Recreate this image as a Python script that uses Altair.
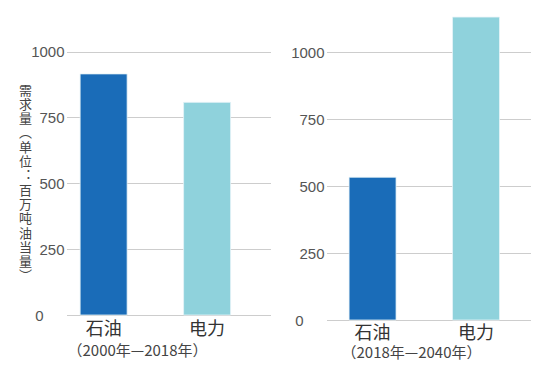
import altair as alt
import pandas as pd

categories = ["石油", "电力"]
left_values = [915, 807]
right_values = [533, 1131]
left_period = "（2000年—2018年）"
right_period = "（2018年—2040年）"
y_title_chars = ["需", "求", "量", "︵", "单", "位", "︓", "百", "万", "吨", "油", "当", "量", "︶"]
y_ticks = [0, 250, 500, 750, 1000]
colors = ["#1a6cb8", "#8fd2dc"]

FONT = "Liberation Sans, Noto Sans CJK SC"
CJK = "Noto Sans CJK SC"

left_df = pd.DataFrame({"cat": categories, "value": left_values})
right_df = pd.DataFrame({"cat": categories, "value": right_values})


def y_axis(show_title, zero_pad):
    kw = dict(
        values=y_ticks,
        format="d",
        grid=True,
        gridDash=[1, 1],
        gridColor="#9a9a9a",
        gridWidth=1,
        domain=False,
        ticks=False,
        labelFont=FONT,
        labelFontSize=15,
        labelColor="#555555",
        labelPadding={"condition": {"test": "datum.value == 0", "value": zero_pad}, "value": 3},
    )
    if show_title:
        kw.update(
            title=y_title_chars,
            titleAngle=0,
            titleFont=CJK,
            titleFontSize=13,
            titleFontWeight="normal",
            titleColor="#444444",
            titleLineHeight=14.3,
            titleAlign="center",
            titleBaseline="top",
            titleX=-42,
            titleY=72,
        )
    else:
        kw.update(title=None)
    return alt.Axis(**kw)


def panel(df, period, height, align, title_x, title_y, show_title, label_pad, zero_pad):
    return alt.Chart(df).mark_bar(stroke="#e6f4f8", strokeWidth=0.8).encode(
        x=alt.X(
            "cat:N",
            sort=categories,
            scale=alt.Scale(paddingInner=0.546, paddingOuter=0.254, align=align),
            axis=alt.Axis(
                labelAngle=0,
                labelFont=CJK,
                labelFontSize=18,
                labelColor="#333333",
                labelPadding=label_pad,
                domain=False,
                ticks=False,
                title=period,
                titleFont=CJK,
                titleFontSize=15,
                titleFontWeight="normal",
                titleColor="#444444",
                titleAlign="left",
                titleBaseline="middle",
                titleX=title_x,
                titleY=title_y,
            ),
        ),
        y=alt.Y(
            "value:Q",
            scale=alt.Scale(domain=[0, 1150], nice=False),
            axis=y_axis(show_title, zero_pad),
        ),
        color=alt.Color("cat:N", scale=alt.Scale(domain=categories, range=colors), legend=None),
    ).properties(width=203, height=height)


left = panel(left_df, left_period, 303, 0.25, 0, 35, True, 5, 24)
right = panel(right_df, right_period, 308, 0.42, 14, 32, False, 4, 24)

chart = alt.hconcat(left, right, spacing=20).properties(
    padding={"left": 18, "top": 12, "right": 5, "bottom": 5},
    background="white",
).configure_view(stroke=None)

chart.save("out.html", embed_options={"renderer": "svg", "actions": False})
